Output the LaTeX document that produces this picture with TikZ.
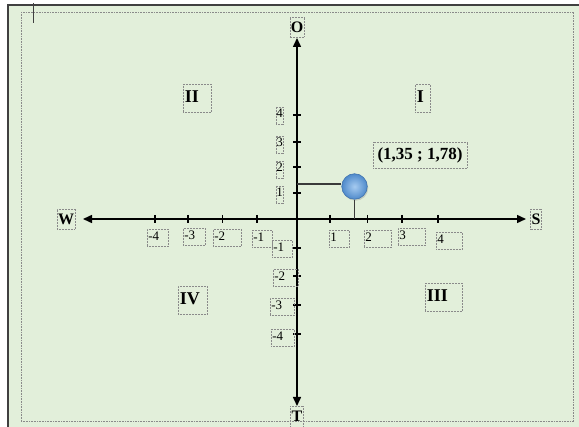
\documentclass[tikz,border=0pt]{standalone}
\usepackage{fontspec}
\setmainfont{Liberation Serif}
\usetikzlibrary{arrows.meta, positioning, shadows}
\definecolor{sheet-fill}{HTML}{E2EFDA}
\definecolor{frame-color}{HTML}{404040}
\definecolor{box-border}{HTML}{8A8A8A}
\definecolor{ball-light}{HTML}{A6CBF0}
\definecolor{ball-color}{HTML}{4F8ACB}
\definecolor{ball-edge}{HTML}{3F72AE}
\definecolor{guide-color}{HTML}{3A3A3A}
\tikzset{
  box-base/.style={
    draw=box-border, densely dotted, line width=0.5pt, inner sep=1pt
  },
  axis-label/.style={
    box-base, font=\fontsize{16}{16}\selectfont\bfseries,
    minimum width=10pt, minimum height=20pt
  },
  quad-label/.style={
    box-base, anchor=north west, align=left, inner sep=1.5pt,
    text height=17pt, text depth=8pt, font=\fontsize{18}{18}\selectfont\bfseries
  },
  num-label/.style={
    box-base, anchor=north west, align=left,
    text height=10pt, text depth=5pt, font=\fontsize{13}{13}\selectfont
  },
  posnum-label/.style={
    box-base, inner xsep=0pt,
    text height=10pt, text depth=5pt, font=\fontsize{13}{13}\selectfont
  },
  axis/.style={
    {Triangle[length=9pt, width=8pt]}-{Triangle[length=9pt, width=8pt]},
    line width=1.5pt, draw=black
  },
  tick/.style={line width=1.2pt, draw=black},
  guide/.style={line width=1.8pt, draw=guide-color},
  ball-node/.style={
    circle, inner sep=0pt, minimum size=25.5pt, draw=ball-edge, line width=0.6pt,
    inner color=ball-light, outer color=ball-color,
    drop shadow={shadow xshift=1pt, shadow yshift=-1.5pt, opacity=0.3}
  }
}

\begin{document}
\begin{tikzpicture}[x=1pt, y=-1pt]
  \useasboundingbox (0,0) rectangle (579,427);

  % sheet and frames
  \fill[sheet-fill] (7.5,5) rectangle (579,427);
  \draw[frame-color, line width=2pt] (7.5,427) -- (7.5,5) -- (579,5);
  \draw[box-border, densely dotted, line width=0.6pt] (21,12) rectangle (573.5,421.5);
  \draw[frame-color, line width=1.5pt] (33.5,3) -- (33.5,23);

  % axis ends
  \coordinate (origin) at (297,219);
  \coordinate (west-end)  at (83,219);
  \coordinate (east-end)  at (526,219);
  \coordinate (north-end) at (297,38);
  \coordinate (south-end) at (297,406);

  \node[axis-label] (O) at (297,27) {O};
  \node[axis-label, minimum height=21pt] (T) at (297,416.5) {T};
  \node[axis-label] (W) at (66,219) {W};
  \node[axis-label] (S) at (536,219) {S};

  \draw[axis] (west-end) -- (east-end);
  \draw[axis] (south-end) -- (north-end);

  % ticks
  \foreach \x in {155,188,222.5,257,330,367.5,402,438}
    \draw[tick] (\x,215) -- (\x,223);
  \foreach \y in {115,142,167,193,248,276,305,334}
    \draw[tick] (293,\y) -- (301,\y);

  % x numbers
  \node[num-label, text width=19pt] (xm4) at (147,229) {-4};
  \node[num-label, text width=20pt] (xm3) at (183,228) {-3};
  \node[num-label, text width=26pt] (xm2) at (213,229) {-2};
  \node[num-label, text width=18pt] (xm1) at (252,230) {-1};
  \node[num-label, text width=18pt] (xp1) at (329,230) {1};
  \node[num-label, text width=25pt] (xp2) at (364,230) {2};
  \node[num-label, text width=25pt] (xp3) at (398,228) {3};
  \node[num-label, text width=24pt] (xp4) at (436,232) {4};

  % y numbers
  \node[posnum-label] (yp4) at (279.5,115.5) {4};
  \node[posnum-label] (yp3) at (279.5,144.5) {3};
  \node[posnum-label] (yp2) at (279.5,169.5) {2};
  \node[posnum-label] (yp1) at (279.5,194.5) {1};
  \node[num-label, text width=18pt] (ym1) at (272,240) {-1};
  \node[num-label, text width=23pt] (ym2) at (273,269) {-2};
  \node[num-label, text width=22pt] (ym3) at (270,298) {-3};
  \node[num-label, text width=21pt] (ym4) at (271,329) {-4};

  % quadrants
  \node[quad-label, text width=25pt] (q2) at (183,84) {II};
  \node[quad-label, text width=12pt] (q1) at (415,84) {I};
  \node[quad-label, text width=26pt] (q4) at (178,286) {IV};
  \node[quad-label, text width=34pt] (q3) at (425,283) {III};

  % point
  \node[box-base, minimum width=94pt, minimum height=26pt,
        font=\fontsize{17}{17}\selectfont\bfseries] (coords) at (420,155) {(1,35 ; 1,78)};
  \node[ball-node] (point) at (354.5,186.5) {};
  \coordinate (on-yaxis) at (297,184);
  \draw[guide] (on-yaxis) -- (on-yaxis -| point.west);
  \draw[guide] (point.south) -- (point.south |- origin);
\end{tikzpicture}
\end{document}
